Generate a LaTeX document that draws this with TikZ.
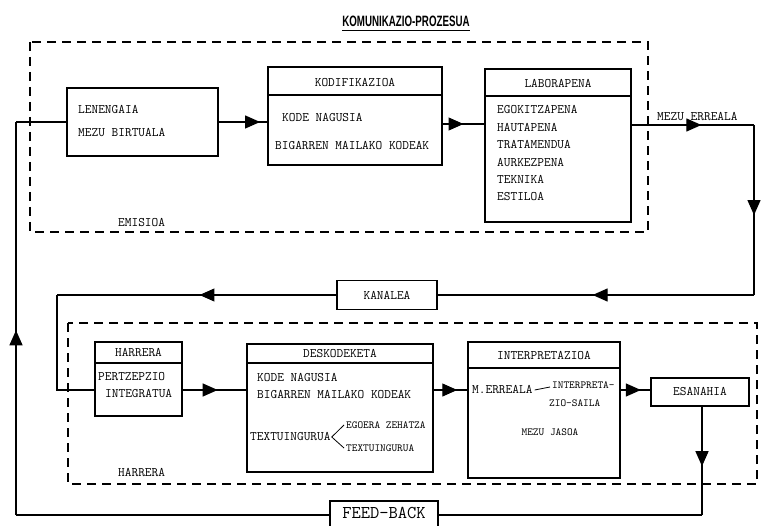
\documentclass[tikz,border=0pt]{standalone}
\usepackage{fontspec}
\newfontfamily\titlefont[FakeStretch=0.65]{Liberation Sans}
\usetikzlibrary{arrows.meta,decorations.markings}

\tikzset{
    box/.style={draw, line width=1.2pt, inner sep=0pt},
    txt/.style={font=\ttfamily\fontsize{13}{14}\selectfont, inner sep=0pt, anchor=west},
    smalltxt/.style={font=\ttfamily\fontsize{10.8}{12}\selectfont, inner sep=0pt, anchor=west},
    conn/.style={line width=1.2pt},
    dashbox/.style={line width=1.3pt, dash pattern=on 9pt off 6pt},
    tri/.style={conn, postaction={decorate},
        decoration={markings, mark=at position #1 with {\arrow{Triangle[length=15pt,width=13pt]}}}}
}

\begin{document}
\begin{tikzpicture}[x=1pt, y=-1pt]
    \useasboundingbox (0,0) rectangle (762,526);

    % Title
    \node[font=\titlefont\bfseries\fontsize{15}{16}\selectfont, inner sep=0pt] (title) at (406,21) {KOMUNIKAZIO-PROZESUA};
    \draw[line width=1.2pt] ([yshift=-4pt]title.base west) -- ([yshift=-4pt]title.base east);

    % Dashed frames
    \draw[dashbox] (30,42) rectangle (648,232);
    \draw[dashbox] (68,323) rectangle (757,484);
    \node[txt] (emisioa) at (118,223) {EMISIOA};
    \node[txt] (harreraL) at (118,473) {HARRERA};

    % Emission boxes
    \node[box, minimum width=151pt, minimum height=68pt] (lenengaia) at (142.5,122) {};
    \node[txt] (len1) at (78,110) {LENENGAIA};
    \node[txt] (len2) at (78,133) {MEZU BIRTUALA};

    \node[box, minimum width=174pt, minimum height=98pt] (kodif) at (355,116) {};
    \draw[line width=1.2pt] (kodif.west |- 0,95) -- (kodif.east |- 0,95);
    \node[txt, anchor=center] (kodifT) at (355,83) {KODIFIKAZIOA};
    \node[txt] (kod1) at (282,118) {KODE NAGUSIA};
    \node[txt] (kod2) at (275,146) {BIGARREN MAILAKO KODEAK};

    \node[box, minimum width=146pt, minimum height=153pt] (labor) at (558,145.5) {};
    \draw[line width=1.2pt] (labor.west |- 0,96) -- (labor.east |- 0,96);
    \node[txt, anchor=center] (laborT) at (558,84) {LABORAPENA};
    \foreach \t [count=\i] in {EGOKITZAPENA,HAUTAPENA,TRATAMENDUA,AURKEZPENA,TEKNIKA,ESTILOA}
        \node[txt] (lab\i) at (497,{92.5+17.4*\i}) {\t};

    \node[txt] (mezuER) at (657,117) {MEZU ERREALA};

    % Channel
    \node[box, minimum width=100pt, minimum height=29pt, font=\ttfamily\fontsize{13}{14}\selectfont] (kanalea) at (387,295) {KANALEA};

    % Reception boxes
    \node[box, minimum width=87pt, minimum height=74pt] (harrera) at (138.5,379) {};
    \draw[line width=1.2pt] (harrera.west |- 0,363) -- (harrera.east |- 0,363);
    \node[txt, anchor=center] (harreraT) at (138.5,353) {HARRERA};
    \node[txt] (har1) at (98,377) {PERTZEPZIO};
    \node[txt] (har2) at (105,394) {INTEGRATUA};

    \node[box, minimum width=186pt, minimum height=128pt] (deskod) at (340,408) {};
    \draw[line width=1.2pt] (deskod.west |- 0,363) -- (deskod.east |- 0,363);
    \node[txt, anchor=center] (deskodT) at (340,354) {DESKODEKETA};
    \node[txt] (des1) at (257,378) {KODE NAGUSIA};
    \node[txt] (des2) at (257,395) {BIGARREN MAILAKO KODEAK};
    \node[txt] (des3) at (250,437) {TEXTUINGURUA};
    \node[smalltxt] (des4) at (346,425) {EGOERA ZEHATZA};
    \node[smalltxt] (des5) at (346,448) {TEXTUINGURUA};
    \draw[line width=0.8pt] ([xshift=1pt]des3.east) -- ([xshift=-2pt]des4.west);
    \draw[line width=0.8pt] ([xshift=1pt]des3.east) -- ([xshift=-2pt]des5.west);

    \node[box, minimum width=152pt, minimum height=136pt] (interp) at (544,410) {};
    \draw[line width=1.2pt] (interp.west |- 0,368) -- (interp.east |- 0,368);
    \node[txt, anchor=center] (interpT) at (544,356) {INTERPRETAZIOA};
    \node[txt] (int1) at (472,390) {M.ERREALA};
    \node[smalltxt] (int2) at (552,385) {INTERPRETA-};
    \node[smalltxt] (int3) at (549,403) {ZIO-SAILA};
    \node[smalltxt, anchor=center] (int4) at (550,432) {MEZU JASOA};
    \draw[line width=0.8pt] ([xshift=2pt]int1.east) -- ([xshift=-2pt,yshift=-2pt]int2.west);

    \node[box, minimum width=98pt, minimum height=28pt, font=\ttfamily\fontsize{13}{14}\selectfont] (esanahia) at (700,392) {ESANAHIA};

    % Feed-back
    \node[box, minimum width=108pt, minimum height=30pt] (feedback) at (384,516) {};
    \node[font=\ttfamily\fontsize{18}{19}\selectfont, inner sep=0pt] (feedbackT) at (384,513) {FEED-BACK};

    % Corners of the loop
    \coordinate (row2) at (0,390);
    \coordinate (mezuE) at (754,125);
    \coordinate (kanR) at (754,295);
    \coordinate (kanL) at (57,295);
    \coordinate (harL) at (57,390);
    \coordinate (fbR) at (702,515);
    \coordinate (fbL) at (16,515);
    \coordinate (lenL) at (16,122);

    % Connectors
    \draw[tri=0.85] (lenengaia.east) -- (lenengaia.east -| kodif.west);
    \draw[tri=0.5] (kodif.east |- 0,124) -- (labor.west |- 0,124);
    \draw[tri=0.57] (labor.east |- mezuE) -- (mezuE);
    \draw[tri=0.53] (mezuE) -- (kanR);
    \draw[tri=0.51] (kanR) -- (kanalea.east);
    \draw[tri=0.49] (kanalea.west) -- (kanL);
    \draw[conn] (kanL) -- (harL) -- (harrera.west |- harL);
    \draw[tri=0.55] (harrera.east |- row2) -- (deskod.west |- row2);
    \draw[tri=0.7] (deskod.east |- row2) -- (interp.west |- row2);
    \draw[tri=0.68] (interp.east |- row2) -- (esanahia.west |- row2);
    \draw[tri=0.55] (esanahia.south -| fbR) -- (fbR);
    \draw[conn] (fbR) -- (feedback.east |- fbR);
    \draw[conn] (feedback.west |- fbL) -- (fbL);
    \draw[tri=0.47] (fbL) -- (lenL);
    \draw[conn] (lenL) -- (lenengaia.west);
\end{tikzpicture}
\end{document}
